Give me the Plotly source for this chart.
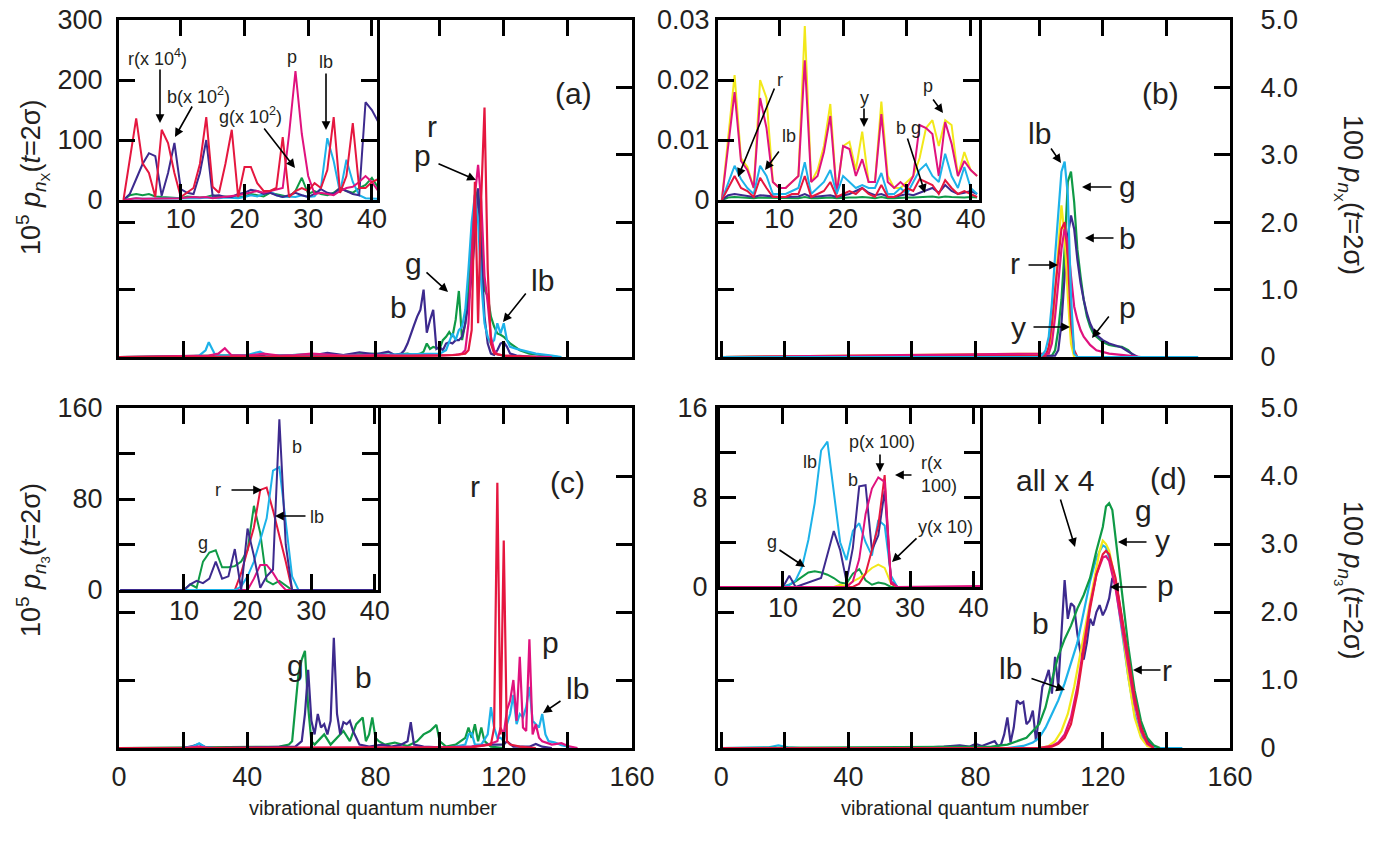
import plotly.graph_objects as go

W, H = 1378, 855          # reference picture size
OFF = 0                   # page body margin removed below
FW, FH = W - 2 * OFF, H - 2 * OFF
FONT = "Liberation Sans, Arial, Helvetica, sans-serif"
TXT = "#231f20"
COL = dict(r="#e5173f", p="#e0127e", b="#3d2a8e", g="#0f9a46", lb="#1db2e9", y="#f2e81a")

# ---------------- panel (a) main : (n, value) ----------------
A_G = [(0,0),(10,0.01),(20,0.01),(30,0.02),(40,0.03),(50,0.02),(60,0.04),(70,0.03),(80,0.05),(85,0.03),(90,0.05),(92,0.03),(94,0.05),(95,0.08),(96,0.2),(97,0.12),(98,0.15),(100,0.12),(101,0.25),(102,0.3),(103,0.37),(104,0.3),(105,0.55),(106,0.98),(107,0.25),(108,0.5),(109,1.0),(110,1.8),(111,2.3),(112,2.5),(113,1.8),(114,1.0),(115,0.9),(116,0.6),(117,0.45),(118,0.35),(119,0.33),(120,0.3),(122,0.2),(125,0.1),(128,0.05),(133,0.02),(137,0)]
A_B = [(0,0),(20,0.01),(40,0.02),(60,0.02),(65,0.06),(70,0.03),(75,0.07),(80,0.04),(84,0.08),(86,0.03),(88,0.05),(89,0.1),(90,0.2),(91,0.35),(92,0.47),(93,0.6),(94,0.7),(95,1.0),(96,0.36),(97,0.55),(98,0.7),(99,0.12),(100,0.15),(101,0.1),(102,0.2),(103,0.22),(104,0.2),(105,0.25),(106,0.25),(107,0.3),(108,0.5),(109,0.8),(110,1.2),(111,1.8),(112,2.5),(113,1.5),(114,0.6),(115,0.2),(116,0.05),(117,0.03),(118,0.1),(119,0.2),(120,0.22),(121,0.15),(122,0.05),(124,0.02),(130,0)]
A_LB = [(0,0),(20,0),(25,0.02),(27,0.1),(28,0.22),(30,0.03),(35,0.02),(40,0.03),(44,0.08),(46,0.03),(50,0.02),(60,0.04),(70,0.02),(80,0.03),(90,0.05),(100,0.05),(102,0.1),(104,0.35),(105,0.25),(106,0.4),(107,0.45),(108,0.7),(109,1.3),(110,2.0),(111,2.4),(112,2.0),(113,1.1),(114,0.5),(115,0.3),(116,0.2),(117,0.25),(118,0.5),(119,0.35),(120,0.5),(121,0.25),(122,0.15),(124,0.12),(127,0.08),(130,0.05),(135,0.02),(138,0)]
A_P = [(0,0),(20,0.01),(28,0.02),(31,0.05),(33,0.13),(35,0.03),(40,0.02),(45,0.05),(50,0.02),(55,0.03),(60,0.05),(70,0.02),(80,0.03),(90,0.02),(100,0.02),(104,0.03),(106,0.04),(107,0.05),(108,0.1),(109,0.5),(110,1.5),(111,2.4),(112,2.85),(113,2.3),(114,1.2),(115,0.8),(116,0.3),(117,0.1),(118,0.04),(120,0.02),(125,0.01),(130,0.01),(135,0)]
A_R = [(0,0),(40,0),(80,0.01),(100,0.02),(105,0.03),(108,0.05),(109,0.1),(110,0.4),(111,2.6),(112,0.5),(113,2.4),(114,3.7),(115,1.3),(116,0.2),(117,0.05),(120,0.02),(130,0)]

# ---------------- inset (a) : n = 1..41 ----------------
IA_N = list(range(1, 42))
IA_R = [0,65,136,61,45,5,117,95,45,5,12,20,60,138,22,12,60,117,5,55,55,28,15,15,20,105,5,15,20,15,28,20,50,138,12,40,128,20,20,30,35]
IA_B = [0,10,35,60,78,73,7,45,95,18,12,10,45,100,7,8,5,5,10,12,17,15,10,12,8,5,8,12,8,5,10,18,12,10,20,15,10,8,163,150,130]
IA_P = [0,2,3,2,2,3,2,2,3,3,4,5,4,5,3,4,5,6,8,10,12,15,12,15,18,20,110,215,110,40,10,12,10,8,15,20,22,30,40,30,15]
IA_LB = [0,2,3,2,2,3,3,2,2,3,3,2,3,4,3,3,4,4,3,5,8,6,10,14,8,5,6,5,8,5,6,20,103,65,12,67,30,8,3,2,2]
IA_G = [0,8,10,8,10,6,5,4,3,3,6,5,4,5,8,5,6,5,4,6,10,8,6,12,10,8,5,15,37,10,15,10,8,12,20,15,12,20,25,37,20]

# ---------------- panel (b) main ----------------
B_LB = [(0,0),(100,0),(101,0.03),(102,0.1),(103,0.3),(104,0.8),(105,1.5),(106,2.2),(107,2.75),(108,2.9),(109,2.4),(110,0.9),(111,0.05),(112,0),(150,0)]
B_G = [(0,0),(104,0.02),(105,0.1),(106,0.4),(107,0.85),(108,1.6),(109,2.6),(110,2.75),(111,2.3),(112,1.6),(113,1.2),(114,0.85),(115,0.6),(116,0.45),(117,0.35),(118,0.3),(120,0.22),(122,0.18),(124,0.16),(126,0.15),(128,0.1),(129,0.05),(130,0)]
B_B = [(0,0),(105,0.02),(106,0.1),(107,0.5),(108,1.2),(109,1.8),(110,2.1),(111,1.9),(112,1.45),(113,1.1),(114,0.85),(115,0.65),(116,0.5),(117,0.4),(118,0.33),(120,0.25),(122,0.2),(124,0.17),(126,0.14),(128,0.08),(130,0.02),(131,0)]
B_R = [(0,0),(102,0.02),(103,0.15),(104,0.5),(105,1.0),(106,1.5),(107,1.9),(108,2.0),(109,1.5),(110,0.5),(111,0.1),(112,0)]
B_Y = [(0,0),(103,0.05),(104,0.3),(105,0.9),(106,1.6),(107,2.25),(108,1.8),(109,0.9),(110,0.2),(111,0)]
B_P = [(0,0),(103,0.05),(104,0.2),(105,0.6),(106,1.1),(107,1.6),(108,1.9),(109,1.7),(110,1.2),(111,0.75),(112,0.55),(113,0.4),(114,0.3),(116,0.18),(118,0.1),(122,0.05),(128,0.02),(132,0)]

# ---------------- inset (b) : n = 1..41 ----------------
IB_N = list(range(1, 42))
IB_Y = [0,0.011,0.0208,0.007,0.0055,0.002,0.02,0.017,0.003,0.002,0.002,0.003,0.004,0.029,0.003,0.005,0.009,0.016,0.001,0.009,0.0097,0.005,0.0114,0.003,0.003,0.0164,0.004,0.002,0.002,0.003,0.004,0.007,0.012,0.0133,0.009,0.0133,0.0125,0.004,0.008,0.005,0.004]
IB_P = [0,0.009,0.018,0.0065,0.005,0.002,0.017,0.012,0.003,0.002,0.002,0.003,0.004,0.0233,0.003,0.004,0.008,0.014,0.001,0.009,0.0085,0.004,0.0068,0.003,0.003,0.0143,0.003,0.002,0.003,0.002,0.004,0.0125,0.012,0.011,0.004,0.013,0.0094,0.004,0.0065,0.005,0.004]
IB_LB = [0,0.003,0.0057,0.0035,0.002,0.001,0.0057,0.004,0.001,0.001,0.001,0.0015,0.002,0.0063,0.001,0.002,0.003,0.005,0.001,0.004,0.003,0.002,0.0025,0.002,0.002,0.0045,0.001,0.001,0.002,0.001,0.003,0.005,0.006,0.004,0.003,0.0077,0.004,0.002,0.0055,0.002,0.001]
IB_R = [0,0.002,0.004,0.002,0.0015,0.0005,0.0037,0.002,0.0005,0.0005,0.0005,0.001,0.001,0.004,0.0005,0.001,0.0015,0.003,0.0005,0.001,0.0015,0.001,0.002,0.001,0.0005,0.0025,0.0005,0.0005,0.001,0.002,0.0015,0.0035,0.003,0.0025,0.001,0.0033,0.002,0.001,0.0015,0.001,0.0005]
IB_B = [0,0.0008,0.001,0.0008,0.0006,0.0005,0.0008,0.0007,0.0005,0.0005,0.0005,0.0006,0.0006,0.001,0.0005,0.0006,0.0007,0.0008,0.0005,0.0008,0.001,0.0015,0.002,0.0012,0.0008,0.001,0.0006,0.0005,0.0008,0.001,0.0008,0.0012,0.0015,0.002,0.0012,0.0025,0.0015,0.001,0.0012,0.0015,0.001]
IB_G = [0,0.0004,0.0005,0.0004,0.0003,0.0003,0.0004,0.0004,0.0003,0.0003,0.0003,0.0003,0.0003,0.0005,0.0003,0.0003,0.0004,0.0004,0.0003,0.0004,0.0004,0.0004,0.0005,0.0004,0.0003,0.0005,0.0003,0.0003,0.0004,0.0004,0.0004,0.0005,0.0005,0.0006,0.0004,0.0006,0.0005,0.0004,0.0004,0.0005,0.0004]

# ---------------- panel (c) main ----------------
C_G = [(0,0),(50,0.02),(53,0.05),(54,0.1),(55,0.6),(56,1.1),(57,1.3),(58,1.43),(59,0.6),(60,0.1),(61,0.05),(62,0.1),(64,0.2),(66,0.05),(68,0.15),(70,0.25),(72,0.1),(74,0.35),(76,0.45),(77,0.1),(78,0.2),(79,0.45),(80,0.15),(81,0.1),(83,0.05),(86,0.08),(90,0.03),(93,0.1),(95,0.2),(97,0.25),(99,0.34),(100,0.1),(102,0.02),(105,0.05),(108,0.15),(109,0.3),(110,0.15),(111,0.35),(112,0.1),(113,0.3),(114,0.1),(116,0.02),(120,0)]
C_B = [(0,0),(20,0),(23,0.03),(25,0.06),(27,0.01),(30,0),(55,0.02),(57,0.1),(58,0.5),(59,1.15),(60,0.4),(61,0.2),(62,0.5),(63,0.3),(64,0.35),(65,0.2),(66,0.4),(67,1.62),(68,0.5),(69,0.2),(70,0.38),(71,0.35),(72,0.4),(73,0.25),(74,0.15),(75,0.05),(78,0.02),(82,0.05),(85,0.02),(88,0.05),(90,0.1),(91,0.38),(92,0.05),(95,0.02),(100,0.01),(110,0.02),(115,0.05),(120,0.05),(121,0.1),(123,0.02),(128,0.02),(130,0.06),(132,0.02),(135,0)]
C_LB = [(0,0),(20,0),(23,0.02),(25,0.07),(27,0.01),(30,0),(100,0),(105,0.02),(108,0.05),(109,0.2),(110,0.22),(111,0.05),(113,0.05),(115,0.2),(116,0.6),(117,0.3),(118,0.15),(119,0.15),(120,0.1),(121,0.35),(122,0.5),(123,0.78),(124,0.35),(125,0.5),(126,0.45),(127,0.6),(128,0.9),(129,0.4),(130,0.35),(131,0.3),(132,0.5),(133,0.2),(134,0.1),(136,0.08),(138,0.04),(140,0.02),(142,0)]
C_P = [(0,0),(20,0),(25,0.02),(28,0),(100,0.01),(110,0.02),(115,0.05),(118,0.1),(119,0.3),(120,0.2),(121,0.56),(122,0.7),(123,1.0),(124,0.4),(125,1.34),(126,0.3),(127,0.25),(128,1.6),(129,0.2),(130,0.35),(131,0.15),(132,0.1),(135,0.05),(138,0.07),(140,0.03),(143,0)]
C_R = [(0,0),(100,0),(110,0.01),(116,0.05),(117,0.3),(118,3.9),(119,0.2),(120,3.05),(121,0.1),(122,0.05),(125,0.02),(130,0)]

# ---------------- inset (c) ----------------
IC_G = [(0,0),(10,0),(11,5),(12,2),(13,25),(14,33),(15,35),(16,20),(17,20),(18,21),(19,25),(20,35),(21,74),(22,50),(23,8),(24,5),(25,8),(26,4),(27,0),(40,0)]
IC_B = [(0,0),(10,0),(11,5),(12,8),(13,6),(14,10),(15,25),(16,10),(17,12),(18,36),(19,0),(20,54),(21,30),(22,2),(23,12),(24,18),(25,150),(26,40),(27,0),(40,0)]
IC_R = [(0,0),(18,0),(19,15),(20,35),(21,55),(22,88),(23,90),(24,70),(25,48),(26,25),(27,0),(40,0)]
IC_LB = [(0,0),(18,0),(19,3),(20,12),(21,25),(22,45),(23,63),(24,105),(25,108),(26,60),(27,12),(28,0),(40,0)]
IC_P = [(0,0),(20,0),(21,10),(22,22),(23,22),(24,15),(25,6),(26,0),(40,0)]

# ---------------- panel (d) main ----------------
D_G = [(0,0),(80,0.01),(85,0.02),(90,0.05),(93,0.1),(96,0.15),(98,0.25),(100,0.35),(102,0.6),(104,1.0),(106,1.35),(108,1.6),(110,1.8),(112,2.05),(114,2.25),(116,2.5),(118,2.9),(120,3.25),(121,3.55),(122,3.6),(123,3.5),(124,3.1),(126,2.35),(128,1.5),(130,0.85),(132,0.4),(134,0.15),(136,0.04),(138,0)]
D_B = [(0,0),(60,0),(70,0.02),(75,0.04),(78,0.02),(80,0.06),(82,0.03),(84,0.07),(86,0.1),(87,0.03),(88,0.05),(89,0.2),(90,0.45),(91,0.08),(92,0.3),(93,0.7),(94,0.65),(95,0.68),(96,0.35),(97,0.4),(98,0.55),(99,0.1),(100,0.5),(101,0.9),(102,1.0),(103,1.15),(104,0.8),(105,1.34),(106,0.9),(107,1.65),(108,2.47),(109,1.9),(110,2.13),(111,2.08),(112,1.68),(113,1.4),(114,1.3),(115,1.55),(116,1.9),(117,1.8),(118,2.0),(119,2.1),(120,1.95),(121,2.05),(122,2.2),(123,2.5),(124,2.45),(125,2.2),(127,1.6),(129,1.0),(131,0.5),(133,0.18),(135,0.05),(137,0)]
D_LB = [(0,0),(15,0.01),(18,0.04),(21,0.01),(25,0),(90,0),(95,0.03),(98,0.08),(100,0.15),(102,0.3),(104,0.5),(106,0.7),(108,0.95),(110,1.25),(112,1.55),(114,2.0),(116,2.45),(118,2.8),(120,2.98),(121,2.95),(122,2.8),(124,2.4),(126,1.75),(128,1.05),(130,0.5),(132,0.18),(134,0.05),(136,0),(145,0)]
D_Y = [(0,0),(100,0),(103,0.03),(105,0.1),(107,0.25),(109,0.5),(111,0.9),(113,1.4),(115,1.9),(117,2.4),(119,2.9),(120,3.05),(121,3.0),(122,2.9),(124,2.45),(126,1.8),(128,1.05),(130,0.45),(132,0.15),(134,0.03),(136,0)]
D_P = [(0,0),(100,0),(104,0.03),(106,0.08),(108,0.2),(110,0.45),(112,0.9),(114,1.5),(116,2.1),(118,2.55),(120,2.8),(121,2.82),(122,2.75),(124,2.35),(126,1.8),(128,1.2),(130,0.65),(132,0.25),(134,0.06),(136,0)]
D_R = [(0,0),(100,0),(104,0.02),(106,0.06),(108,0.15),(110,0.35),(112,0.8),(114,1.45),(116,2.05),(118,2.55),(120,2.85),(121,2.9),(122,2.85),(124,2.5),(126,1.95),(128,1.35),(130,0.75),(132,0.3),(134,0.08),(136,0)]

# ---------------- inset (d) ----------------
ID_G = [(0,0),(10,0),(11,0.2),(12,0.5),(13,0.9),(14,1.3),(15,1.4),(16,1.3),(17,1.1),(18,0.8),(19,0.4),(20,0.3),(21,1.2),(22,1.6),(23,0.6),(24,0.2),(25,0.4),(26,0.3),(27,0),(41,0)]
ID_B = [(0,0),(10,0),(11,1.0),(12,0),(16,0.8),(17,3),(18,5),(19,3.3),(20,0.5),(21,3.5),(22,9),(23,9.1),(24,3.3),(25,4.6),(26,8.6),(27,0.5),(28,0),(41,0)]
ID_LB = [(0,0),(10,0),(11,0.2),(12,0.6),(13,1.8),(14,4.2),(15,7.5),(16,12.2),(17,13),(18,8.5),(19,4),(20,2.4),(21,5),(22,5.7),(23,4),(24,2.8),(25,6),(26,5.5),(27,1),(28,0),(41,0)]
ID_Y = [(0,0),(18,0),(19,0.2),(20,0.1),(21,0.5),(22,0.8),(23,1.2),(24,1.7),(25,2.0),(26,1.7),(27,0.3),(28,0),(41,0)]
ID_P = [(0,0),(20,0),(21,0.5),(22,2.5),(23,6.5),(24,8.8),(25,9.8),(26,9.4),(27,0.5),(28,0),(34,0.05),(41,0.08)]
ID_R = [(0,0),(21,0),(22,0.3),(23,1.2),(24,3.3),(25,5.5),(26,10),(27,0.3),(28,0),(41,0)]

fig = go.Figure()


def add(pairs, key, ax, width=2.2):
    xs = [p[0] for p in pairs]
    ys = [p[1] for p in pairs]
    fig.add_trace(go.Scatter(x=xs, y=ys, mode="lines", xaxis="x" + ax, yaxis="y" + ax,
                             line=dict(color=COL[key], width=width), showlegend=False,
                             hoverinfo="skip"))


def addn(ns, vals, key, ax, width=2.0):
    add(list(zip(ns, vals)), key, ax, width)


for pairs, k in [(A_G, "g"), (A_B, "b"), (A_LB, "lb"), (A_P, "p"), (A_R, "r")]:
    add(pairs, k, "")
for vals, k in [(IA_G, "g"), (IA_LB, "lb"), (IA_B, "b"), (IA_P, "p"), (IA_R, "r")]:
    addn(IA_N, vals, k, "2")
for pairs, k in [(B_G, "g"), (B_B, "b"), (B_Y, "y"), (B_R, "r"), (B_P, "p"), (B_LB, "lb")]:
    add(pairs, k, "3")
for vals, k in [(IB_G, "g"), (IB_B, "b"), (IB_Y, "y"), (IB_P, "p"), (IB_LB, "lb"), (IB_R, "r")]:
    addn(IB_N, vals, k, "4")
for pairs, k in [(C_G, "g"), (C_B, "b"), (C_LB, "lb"), (C_P, "p"), (C_R, "r")]:
    add(pairs, k, "5")
for pairs, k in [(IC_G, "g"), (IC_P, "p"), (IC_R, "r"), (IC_LB, "lb"), (IC_B, "b")]:
    add(pairs, k, "6", 2.0)
for pairs, k in [(D_B, "b"), (D_LB, "lb"), (D_G, "g"), (D_Y, "y"), (D_P, "p"), (D_R, "r")]:
    add(pairs, k, "7")
for pairs, k in [(ID_G, "g"), (ID_Y, "y"), (ID_LB, "lb"), (ID_B, "b"), (ID_R, "r"), (ID_P, "p")]:
    add(pairs, k, "8", 2.0)


def px2fx(px):
    return (px - OFF) / FW


def py2fy(py):
    return 1 - (py - OFF) / FH


def dx(a, b):
    return [px2fx(a), px2fx(b)]


def dy(top, bot):
    return [py2fy(bot), py2fy(top)]


def base(**kw):
    d = dict(showline=True, linewidth=3, linecolor="black", mirror="ticks", ticks="inside",
             ticklen=16, tickwidth=3, tickcolor="black", showgrid=False, zeroline=False,
             tickfont=dict(size=27, family=FONT, color=TXT), fixedrange=True, automargin=False)
    d.update(kw)
    return d


MAIN_Y = [0, 1, 2, 3, 4, 5]
MAIN_X = [0, 20, 40, 60, 80, 100, 120, 140, 160]
MAIN_XT = ["0", "", "40", "", "80", "", "120", "", "160"]
RIGHT_T = ["0", "1.0", "2.0", "3.0", "4.0", "5.0"]
INS_X = [10, 20, 30, 40]

lay = dict(
    width=FW, height=FH, margin=dict(l=0, r=0, t=0, b=0, pad=0, autoexpand=False),
    paper_bgcolor="white", plot_bgcolor="white", showlegend=False,
    # (a)
    xaxis=base(domain=dx(119, 632), range=[0, 160], anchor="y", tickvals=MAIN_X, showticklabels=False),
    yaxis=base(domain=dy(20, 357), range=[0, 5], anchor="x", tickvals=MAIN_Y, showticklabels=False),
    xaxis2=base(domain=dx(119, 377), range=[0.3, 40.8], anchor="y2", tickvals=INS_X, ticklabelstandoff=-7),
    yaxis2=base(domain=dy(20, 200), range=[0, 300], anchor="x2", tickvals=[0, 100, 200, 300], ticklabelstandoff=8),
    # (b)
    xaxis3=base(domain=dx(718, 1230), range=[-1, 160], anchor="y3", tickvals=MAIN_X, showticklabels=False),
    yaxis3=base(domain=dy(20, 357), range=[0, 5], anchor="x3", side="right", tickvals=MAIN_Y,
                ticktext=RIGHT_T, ticklabelstandoff=22),
    xaxis4=base(domain=dx(718, 979), range=[0.4, 41.3], anchor="y4", tickvals=INS_X, ticklabelstandoff=-7),
    yaxis4=base(domain=dy(20, 200), range=[0, 0.03], anchor="x4", tickvals=[0, 0.01, 0.02, 0.03],
                ticktext=["0", "0.01", "0.02", "0.03"], ticklabelstandoff=0),
    # (c)
    xaxis5=base(domain=dx(119, 632), range=[0, 160], anchor="y5", tickvals=MAIN_X, ticktext=MAIN_XT,
                ticklabelstandoff=3),
    yaxis5=base(domain=dy(408, 748), range=[0, 5], anchor="x5", tickvals=MAIN_Y, showticklabels=False),
    xaxis6=base(domain=dx(119, 378), range=[-0.2, 40.5], anchor="y6", tickvals=INS_X, ticklabelstandoff=-5),
    yaxis6=base(domain=dy(408, 590), range=[0, 160], anchor="x6", tickvals=[0, 40, 80, 120, 160],
                ticktext=["0", "", "80", "", "160"], ticklabelstandoff=8),
    # (d)
    xaxis7=base(domain=dx(718, 1230), range=[-1, 160], anchor="y7", tickvals=MAIN_X, ticktext=MAIN_XT,
                ticklabelstandoff=3),
    yaxis7=base(domain=dy(408, 748), range=[0, 5], anchor="x7", side="right", tickvals=MAIN_Y,
                ticktext=RIGHT_T, ticklabelstandoff=22),
    xaxis8=base(domain=dx(720, 980), range=[0.1, 41], anchor="y8", tickvals=INS_X, ticklabelstandoff=-5),
    yaxis8=base(domain=dy(408, 587), range=[0, 16], anchor="x8", tickvals=[0, 4, 8, 12, 16],
                ticktext=["0", "", "8", "", "16"], ticklabelstandoff=4),
)

ann = []


def T(x, y, s, size=30, **kw):
    d = dict(x=px2fx(x), y=py2fy(y), xref="paper", yref="paper", text=s, showarrow=False,
             font=dict(size=size, family=FONT, color=TXT), xanchor="center", yanchor="middle")
    d.update(kw)
    ann.append(d)


def A(x1, y1, x2, y2):
    ann.append(dict(x=px2fx(x2), y=py2fy(y2), xref="paper", yref="paper", ax=x1 - x2, ay=y1 - y2,
                    axref="pixel", ayref="pixel", text="", showarrow=True, arrowhead=2,
                    arrowsize=1.1, arrowwidth=1.6, arrowcolor="black"))


S = 18
# panel (a)
T(432, 126, "r"); T(423, 155, "p"); A(437, 163, 476, 180)
T(413, 263, "g"); A(425, 271, 448, 292)
T(398, 308, "b")
T(542, 280, "lb"); A(527, 292, 503, 322)
T(573, 93, "(a)")
T(157, 58, "r(x 10<sup>4</sup>)", S); A(160, 68, 160, 123)
T(198, 95, "b(x 10<sup>2</sup>)", S); A(193, 105, 175, 137)
T(250, 115, "g(x 10<sup>2</sup>)", S); A(263, 127, 295, 168)
T(292, 57, "p", S)
T(326, 62, "lb", S); A(326, 72, 326, 130)
# panel (b)
T(780, 80, "r", S); A(775, 87, 738, 177)
T(789, 136, "lb", S); A(780, 150, 765, 170)
T(864, 98, "y", S); A(864, 107, 864, 127)
T(908, 128, "b g", S); A(907, 137, 925, 193)
T(928, 86, "p", S); A(932, 98, 943, 113)
T(1160, 93, "(b)")
T(1039, 133, "lb"); A(1050, 147, 1061, 163)
T(1127, 187, "g"); A(1113, 187, 1082, 187)
T(1127, 238, "b"); A(1115, 238, 1085, 238)
T(1015, 263, "r"); A(1027, 265, 1058, 265)
T(1018, 327, "y"); A(1032, 327, 1070, 327)
T(1127, 308, "p"); A(1110, 315, 1092, 338)
# panel (c)
T(475, 487, "r"); T(567, 482, "(c)"); T(550, 642, "p")
T(577, 688, "lb"); A(562, 700, 543, 713)
T(363, 677, "b"); T(295, 665, "g")
T(297, 447, "b", S)
T(218, 490, "r", S); A(230, 490, 262, 490)
T(317, 517, "lb", S); A(307, 516, 275, 516)
T(203, 543, "g", S)
# panel (d)
T(810, 462, "lb", S)
T(853, 480, "b", S)
T(882, 442, "p(x 100)", S); A(880, 453, 880, 472)
T(919, 463, "r(x", S, xanchor="left")
T(919, 486, "100)", S, xanchor="left")
A(913, 475, 895, 475)
T(945, 527, "y(x 10)", S); A(918, 537, 892, 562)
T(772, 542, "g", S); A(778, 549, 805, 567)
T(1055, 480, "all x 4"); A(1060, 498, 1075, 547)
T(1168, 478, "(d)")
T(1143, 510, "g")
T(1162, 540, "y"); A(1148, 542, 1118, 542)
T(1165, 585, "p"); A(1148, 587, 1110, 587)
T(1167, 670, "r"); A(1162, 670, 1133, 670)
T(1040, 623, "b")
T(1010, 668, "lb"); A(1030, 678, 1065, 690)

# axis titles
YT_X = "<i>p</i><sub><i>n</i><sub>X</sub></sub>(<i>t</i>=2σ)"
YT_3 = "<i>p</i><sub><i>n</i><sub>3</sub></sub>(<i>t</i>=2σ)"
T(32, 178, "10<sup>5</sup> " + YT_X, 27, textangle=-90)
T(32, 560, "10<sup>5</sup> " + YT_3, 27, textangle=-90)
T(1350, 195, "100 " + YT_X, 27, textangle=90)
T(1350, 580, "100 " + YT_3, 27, textangle=90)
T(373, 808, "vibrational quantum number", 20)
T(965, 808, "vibrational quantum number", 20)

lay["annotations"] = ann
fig.update_layout(**lay)
fig.write_html("out.html", config={"displayModeBar": False, "staticPlot": True},
               post_script="document.body.style.margin='0px';document.body.style.overflow='hidden';")
